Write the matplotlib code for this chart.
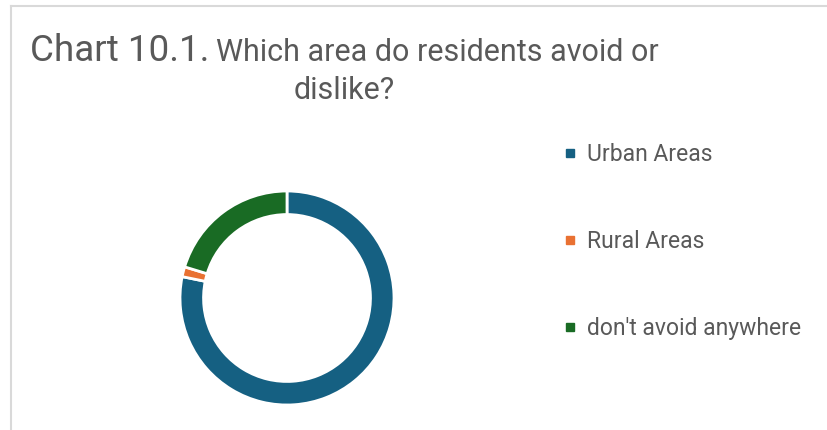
import matplotlib
matplotlib.use("Agg")
import matplotlib.pyplot as plt
from matplotlib.lines import Line2D

# Answers to "Which area do residents avoid or dislike?" (share of respondents, %)
categories = ["Urban Areas", "Rural Areas", "don't avoid anywhere"]
shares = [78.2, 1.5, 20.3]
colors = ["#156082", "#E97132", "#196B24"]

W, H = 827, 430
TEXT = "#595959"

fig = plt.figure(figsize=(W / 100, H / 100), dpi=100)
fig.patch.set_facecolor("white")

# light frame on the top and left edges
fig.add_artist(Line2D([11 / W, 1], [1 - 6 / H, 1 - 6 / H], color="#d9d9d9", lw=1.5))
fig.add_artist(Line2D([11 / W, 11 / W], [0, 1 - 6 / H], color="#d9d9d9", lw=1.5))

# donut
cx, cy, r = 287, 298, 107
ax = fig.add_axes([(cx - r) / W, 1 - (cy + r) / H, 2 * r / W, 2 * r / H])
ax.pie(
    shares,
    colors=colors,
    startangle=90,
    counterclock=False,
    radius=1,
    wedgeprops=dict(width=0.22, edgecolor="white", linewidth=2),
)
ax.set_xlim(-1, 1)
ax.set_ylim(-1, 1)
ax.set_aspect("equal")
ax.axis("off")

# title in two sizes, second line centred under the first
title_font = ["Roboto", "DejaVu Sans"]
renderer = fig.canvas.get_renderer()
t1 = fig.text(30 / W, 1 - 61 / H, "Chart 10.1.", fontsize=26.5, color=TEXT,
              family=title_font, va="baseline", ha="left")
bb1 = t1.get_window_extent(renderer)
t2 = fig.text((bb1.x1 + 7) / W, 1 - 61 / H, "Which area do residents avoid or",
              fontsize=22, color=TEXT, family=title_font, va="baseline", ha="left")
bb2 = t2.get_window_extent(renderer)
fig.text((bb1.x0 + bb2.x1) / 2 / W, 1 - 99 / H, "dislike?", fontsize=22,
         color=TEXT, family=title_font, va="baseline", ha="center")

# legend
handles = [
    Line2D([], [], marker="s", linestyle="none", markersize=6,
           markerfacecolor=c, markeredgecolor=c)
    for c in colors
]
fig.legend(
    handles,
    categories,
    loc="upper left",
    bbox_to_anchor=(542 / W, 1 - 122 / H),
    frameon=False,
    prop=dict(family="Roboto", size=16.5),
    labelcolor=TEXT,
    handlelength=0.6,
    handletextpad=0.45,
    labelspacing=2.8,
)

fig.savefig("out.png", dpi=100, facecolor="white")
